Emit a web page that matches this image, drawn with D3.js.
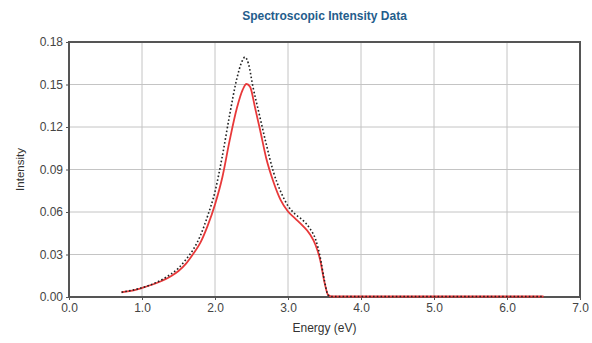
<!DOCTYPE html>
<html>
<head>
<meta charset="utf-8">
<script src="https://cdn.jsdelivr.net/npm/d3@7"></script>
<style>
  body { margin: 0; background: #fff; }
  svg { font-family: "Liberation Sans", Arial, sans-serif; }
</style>
</head>
<body>
<div id="chart"></div>
<script>
// energy (eV) and intensity
const redX = [0.72, 0.9, 1.0, 1.2, 1.4, 1.5, 1.6, 1.7, 1.8, 1.9, 2.0, 2.1, 2.2, 2.3, 2.38, 2.43, 2.48, 2.55, 2.62, 2.7, 2.8, 2.9, 3.0, 3.1, 3.2, 3.3, 3.38, 3.44, 3.5, 3.55, 3.6, 4.0, 5.0, 6.0, 6.5];
const redY = [0.003, 0.0045, 0.006, 0.0095, 0.0145, 0.018, 0.023, 0.030, 0.038, 0.050, 0.065, 0.084, 0.110, 0.133, 0.146, 0.150, 0.148, 0.133, 0.117, 0.098, 0.081, 0.068, 0.060, 0.055, 0.050, 0.044, 0.036, 0.026, 0.010, 0.001, 0, 0, 0, 0, 0];

const blackX = [0.72, 1.0, 1.2, 1.4, 1.5, 1.6, 1.7, 1.8, 1.9, 2.0, 2.1, 2.2, 2.3, 2.37, 2.41, 2.46, 2.52, 2.6, 2.7, 2.8, 2.9, 3.0, 3.1, 3.2, 3.3, 3.38, 3.44, 3.5, 3.55, 3.6, 4.0, 5.0, 6.0, 6.5];
const blackY = [0.003, 0.0062, 0.010, 0.016, 0.020, 0.026, 0.033, 0.043, 0.057, 0.074, 0.099, 0.128, 0.154, 0.166, 0.169, 0.164, 0.148, 0.130, 0.108, 0.088, 0.074, 0.064, 0.058, 0.054, 0.048, 0.040, 0.028, 0.011, 0.001, 0, 0, 0, 0, 0];

const xTicks = [0, 1, 2, 3, 4, 5, 6, 7];
const yTicks = [0, 0.03, 0.06, 0.09, 0.12, 0.15, 0.18];

const width = 592, height = 343;
const margin = {top: 42, right: 12, bottom: 46, left: 69};
const innerW = width - margin.left - margin.right;
const innerH = height - margin.top - margin.bottom;

const svg = d3.select('#chart').append('svg')
  .attr('width', width)
  .attr('height', height);

const g = svg.append('g')
  .attr('transform', `translate(${margin.left},${margin.top})`);

const x = d3.scaleLinear().domain([0, 7]).range([0, innerW]);
const y = d3.scaleLinear().domain([0, 0.18]).range([innerH, 0]);

// grid
g.append('g').selectAll('line').data(xTicks).enter().append('line')
  .attr('x1', d => x(d)).attr('x2', d => x(d))
  .attr('y1', 0).attr('y2', innerH)
  .attr('stroke', '#c4c4c4').attr('stroke-width', 1);
g.append('g').selectAll('line').data(yTicks).enter().append('line')
  .attr('x1', 0).attr('x2', innerW)
  .attr('y1', d => y(d)).attr('y2', d => y(d))
  .attr('stroke', '#c4c4c4').attr('stroke-width', 1);

// axes
const xAxis = g.append('g')
  .attr('transform', `translate(0,${innerH})`)
  .call(d3.axisBottom(x).tickValues(xTicks).tickFormat(d3.format('.1f')).tickSize(3).tickPadding(3));
const yAxis = g.append('g')
  .call(d3.axisLeft(y).tickValues(yTicks).tickFormat(d3.format('.2f')).tickSize(3).tickPadding(3));
[xAxis, yAxis].forEach(a => {
  a.select('.domain').remove();
  a.selectAll('line').attr('stroke', '#555');
  a.selectAll('text').attr('fill', '#444').style('font-size', '12px');
});

// frame (under the curves, so the zero stretch stays visible)
g.append('rect')
  .attr('x', 0).attr('y', 0)
  .attr('width', innerW).attr('height', innerH)
  .attr('fill', 'none')
  .attr('stroke', '#555')
  .attr('stroke-width', 2);

// lines
const line = d3.line()
  .x(d => x(d[0]))
  .y(d => y(d[1]) - 0.5)
  .curve(d3.curveMonotoneX);

g.append('path')
  .datum(d3.zip(redX, redY))
  .attr('d', line)
  .attr('fill', 'none')
  .attr('stroke', '#e8393a')
  .attr('stroke-width', 1.8);

g.append('path')
  .datum(d3.zip(blackX, blackY))
  .attr('d', line)
  .attr('fill', 'none')
  .attr('stroke', '#222')
  .attr('stroke-width', 1.6)
  .attr('stroke-dasharray', '1.6,2.2');

// titles
svg.append('text')
  .attr('x', margin.left + innerW / 2)
  .attr('y', 20)
  .attr('text-anchor', 'middle')
  .attr('fill', '#245d8c')
  .style('font-size', '12px')
  .style('font-weight', 'bold')
  .text('Spectroscopic Intensity Data');

svg.append('text')
  .attr('x', margin.left + innerW / 2)
  .attr('y', 332)
  .attr('text-anchor', 'middle')
  .attr('fill', '#333')
  .style('font-size', '12px')
  .text('Energy (eV)');

svg.append('text')
  .attr('transform', `translate(24,${margin.top + innerH / 2}) rotate(-90)`)
  .attr('text-anchor', 'middle')
  .attr('fill', '#333')
  .style('font-size', '11.5px')
  .text('Intensity');
</script>
</body>
</html>
